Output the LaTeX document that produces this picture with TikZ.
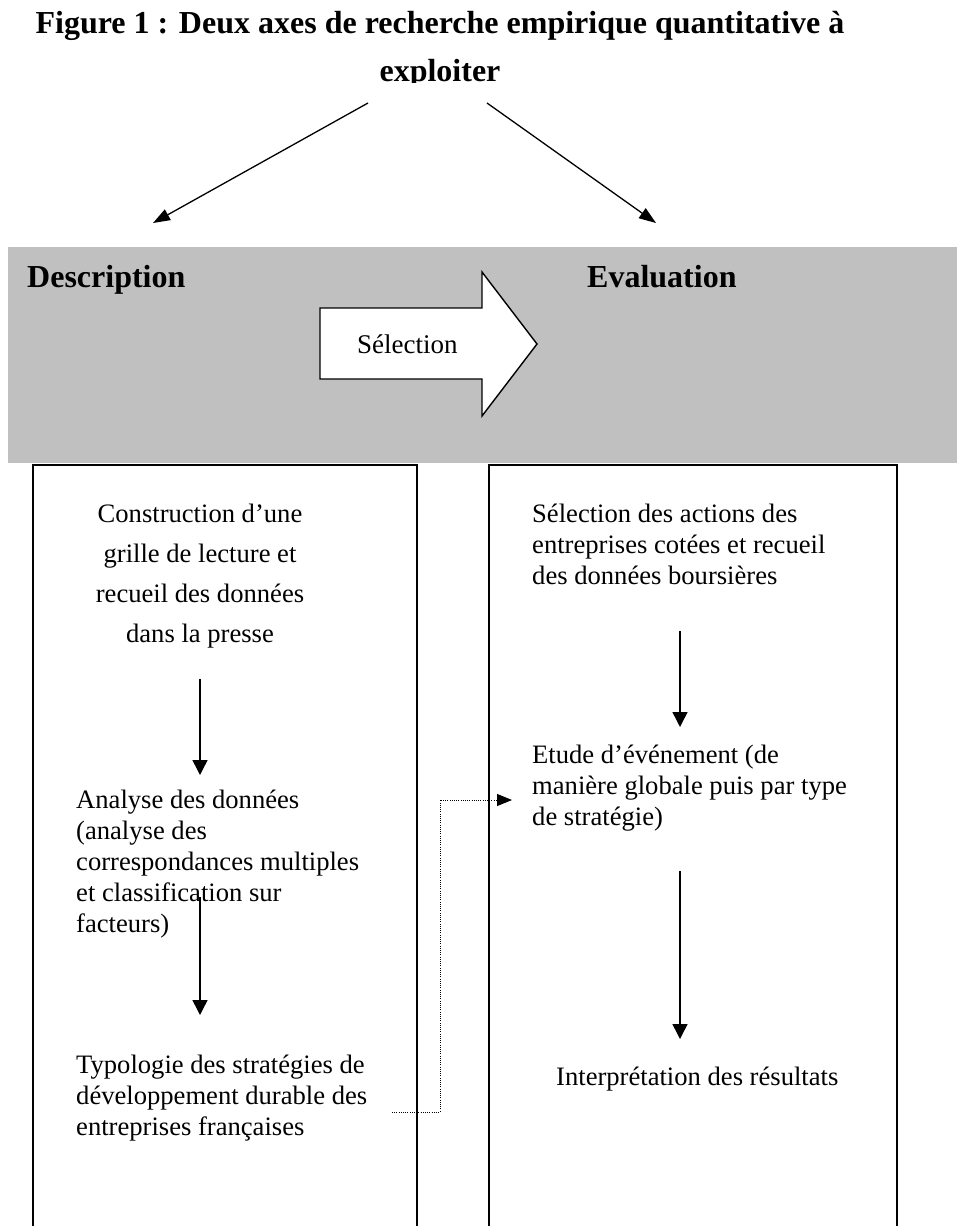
\documentclass[tikz,border=0pt]{standalone}
\usepackage{fontspec}
\setmainfont{Liberation Serif}
\usetikzlibrary{arrows.meta}
\definecolor{bandgray}{RGB}{192,192,192}
\newcommand\bodyfnt{\fontsize{26.6}{31}\selectfont}
\newcommand\widebodyfnt{\fontsize{26.6}{40}\selectfont}
\newcommand\titlefnt{\fontsize{32}{48}\selectfont\bfseries}
\newcommand\headfnt{\fontsize{32}{38}\selectfont\bfseries}
\begin{document}
\begin{tikzpicture}[x=1pt,y=-1pt,
  txt/.style={inner sep=0pt, font=\bodyfnt},
  colbox/.style={draw=black, line width=1.7pt, fill=white, inner sep=0pt,
                 minimum width=384pt, minimum height=820pt, anchor=north west},
  flowarrow/.style={line width=1.5pt, -{Triangle[length=15pt,width=15pt]}},
  toparrow/.style={line width=1.3pt, -{Triangle[length=17pt,width=12pt]}},
  dotconn/.style={line width=1pt, dash pattern=on 1pt off 1.2pt,
                  -{Triangle[length=15pt,width=12pt]}},
  blockarrow/.style={draw=black, line width=1.4pt, fill=white, line join=miter}
]
\clip (0,0) rectangle (957,1226);
\useasboundingbox (0,0) rectangle (957,1226);

% title (clipped at bottom as in the reference)
\begin{scope}
  \clip (0,0) rectangle (957,82);
  \node[anchor=base, inner sep=0pt, font=\titlefnt] (title1) at (440,33)
    {Figure 1 : Deux axes de recherche empirique quantitative à};
  \node[anchor=base, inner sep=0pt, font=\titlefnt] (title2) at (440,81.5)
    {exploiter};
\end{scope}

% arrows from title
\coordinate (tl0) at (368,103);
\coordinate (tl1) at (153,223);
\coordinate (tr0) at (487,103);
\coordinate (tr1) at (656,223);
\draw[toparrow] (tl0) -- (tl1);
\draw[toparrow] (tr0) -- (tr1);

% gray band
\fill[bandgray] (8,247) rectangle (957,463);
\node[anchor=base west, inner sep=0pt, font=\headfnt] (desc) at (27,287) {Description};
\node[anchor=base west, inner sep=0pt, font=\headfnt] (eval) at (587,287) {Evaluation};

% block arrow "Sélection"
\draw[blockarrow] (320,308) -- (482,308) -- (482,272) -- (537,344)
   -- (482,416) -- (482,379) -- (320,379) -- cycle;
\node[anchor=base west, inner sep=0pt, font=\fontsize{27}{31}\selectfont] (sel) at (357,353) {Sélection};

% column boxes
\node[colbox] (lbox) at (32,464) {};
\node[colbox, minimum width=408pt] (rbox) at (488,464) {};

% left column
\node[anchor=base, txt, font=\widebodyfnt] (constr) at (200,522)
  {\begin{tabular}[t]{@{}c@{}}Construction d’une\\grille de lecture et\\recueil des données\\dans la presse\end{tabular}};
\node[anchor=base west, txt] (analyse) at (76,808)
  {\begin{tabular}[t]{@{}l@{}}Analyse des données\\(analyse des\\correspondances multiples\\et classification sur\\facteurs)\end{tabular}};
\node[anchor=base west, txt] (typo) at (76,1073)
  {\begin{tabular}[t]{@{}l@{}}Typologie des stratégies de\\développement durable des\\entreprises françaises\end{tabular}};

\coordinate (la0) at (200,679);
\coordinate (la1) at (200,775);
\coordinate (lb0) at (200,897);
\coordinate (lb1) at (200,1015);
\draw[flowarrow] (la0) -- (la1);
\draw[flowarrow] (lb0) -- (lb1);

% right column
\node[anchor=base west, txt] (selact) at (532,522)
  {\begin{tabular}[t]{@{}l@{}}Sélection des actions des\\entreprises cotées et recueil\\des données boursières\end{tabular}};
\node[anchor=base west, txt] (etude) at (532,763)
  {\begin{tabular}[t]{@{}l@{}}Etude d’événement (de\\manière globale puis par type\\de stratégie)\end{tabular}};
\node[anchor=base west, txt] (interp) at (556,1085) {Interprétation des résultats};

\coordinate (ra0) at (680,631);
\coordinate (ra1) at (680,727);
\coordinate (rb0) at (680,871);
\coordinate (rb1) at (680,1039);
\draw[flowarrow] (ra0) -- (ra1);
\draw[flowarrow] (rb0) -- (rb1);

% dotted connector
\coordinate (ds) at (392,1112);
\coordinate (dc1) at (440,1112);
\coordinate (dc2) at (440,800);
\coordinate (de) at (512,800);
\draw[dotconn] (ds) -- (dc1) -- (dc2) -- (de);
\end{tikzpicture}
\end{document}
